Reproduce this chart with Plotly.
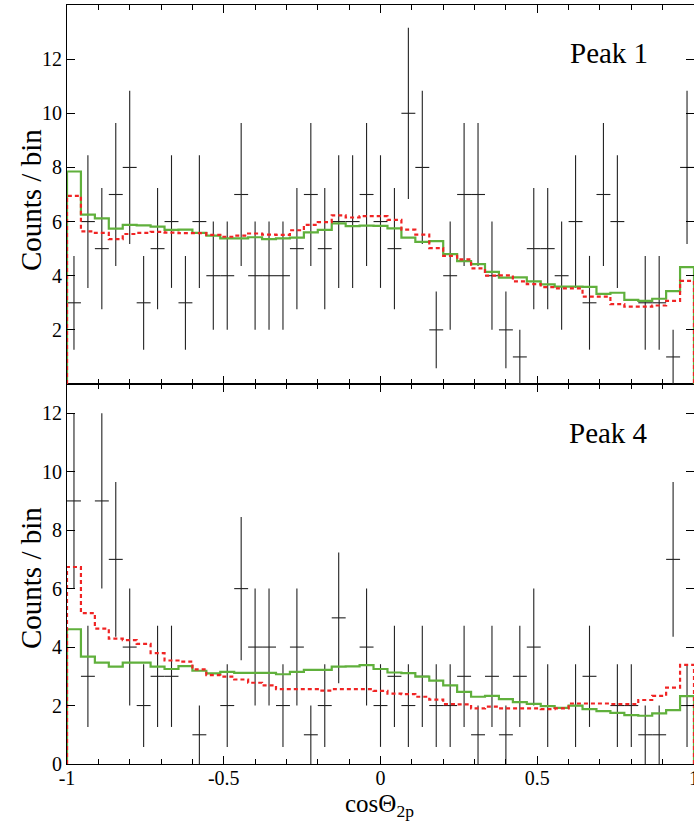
import numpy as np
import plotly.graph_objects as go

# ---- data (45 bins in cos(theta_2p) from -1 to 1) ----
n_bins = 45
x_min, x_max = -1.0, 1.0

peak1_counts = [3, 6, 5, 7, 8, 3, 5, 6, 3, 6, 4, 4, 7, 4, 4, 4, 5, 7, 5, 6, 6, 7, 6,
                5, 10, 8, 2, 4, 7, 7, 4, 2, 1, 5, 5, 4, 6, 3, 7, 6, 0, 3, 3, 1, 8]
peak1_green = [7.85, 6.26, 6.12, 5.74, 5.88, 5.86, 5.81, 5.69, 5.70, 5.58, 5.48, 5.38,
               5.38, 5.42, 5.35, 5.38, 5.41, 5.60, 5.69, 5.93, 5.83, 5.85, 5.84, 5.75,
               5.41, 5.25, 5.28, 4.80, 4.54, 4.43, 4.14, 3.93, 3.94, 3.79, 3.68, 3.60,
               3.60, 3.59, 3.33, 3.37, 3.11, 3.07, 3.15, 3.43, 4.32]
peak1_red = [6.95, 5.64, 5.58, 5.35, 5.54, 5.58, 5.62, 5.59, 5.57, 5.57, 5.51, 5.44,
             5.48, 5.56, 5.52, 5.51, 5.68, 5.88, 5.98, 6.23, 6.15, 6.20, 6.20, 6.06,
             5.70, 5.52, 5.02, 4.73, 4.60, 4.27, 4.00, 4.01, 3.79, 3.69, 3.58, 3.53,
             3.53, 3.23, 3.23, 2.95, 2.86, 2.86, 2.90, 3.07, 3.81]

peak4_counts = [9, 3, 9, 7, 4, 2, 3, 3, 0, 1, 0, 2, 6, 4, 4, 2, 4, 1, 2, 5, 0, 4, 2,
                3, 2, 3, 2, 2, 3, 1, 3, 1, 3, 4, 2, 0, 2, 3, 0, 2, 2, 1, 1, 7, 2]
peak4_green = [4.61, 3.67, 3.47, 3.33, 3.47, 3.47, 3.33, 3.25, 3.35, 3.19, 3.10, 3.15,
               3.12, 3.12, 3.12, 3.07, 3.15, 3.22, 3.22, 3.33, 3.34, 3.38, 3.25, 3.13,
               3.11, 2.99, 2.85, 2.69, 2.47, 2.30, 2.33, 2.22, 2.12, 2.06, 1.98, 1.92,
               2.00, 1.88, 1.81, 1.75, 1.67, 1.65, 1.73, 1.84, 2.32]
peak4_red = [6.74, 5.16, 4.63, 4.29, 4.24, 4.11, 3.79, 3.54, 3.50, 3.24, 3.04, 2.99,
             2.89, 2.78, 2.69, 2.56, 2.56, 2.56, 2.51, 2.56, 2.56, 2.56, 2.50, 2.41,
             2.39, 2.30, 2.20, 2.05, 2.04, 1.90, 1.96, 1.90, 1.90, 1.90, 1.88, 1.90,
             2.07, 2.07, 2.07, 2.05, 2.05, 2.19, 2.33, 2.61, 3.39]

x_tickvals = [-1, -0.5, 0, 0.5, 1]
x_ticktext = ["-1", "-0.5", "0", "0.5", "1"]
top_yticks = [2, 4, 6, 8, 10, 12]
bot_yticks = [0, 2, 4, 6, 8, 10, 12]
panel_labels = ["Peak 1", "Peak 4"]
y_title = "Counts / bin"
x_title = "cosΘ<sub>2p</sub>"

# ---- derived ----
edges = np.linspace(x_min, x_max, n_bins + 1)
centers = 0.5 * (edges[:-1] + edges[1:])
half_w = 0.5 * (edges[1] - edges[0])

GREEN = "rgb(96,176,60)"
RED = "rgb(240,36,36)"
FONT = "Liberation Serif, Times New Roman, Times, serif"

fig = go.Figure()


def step_xy(vals):
    xs = [edges[0]] + list(edges[:-1]) + [edges[-1], edges[-1]]
    ys = [0] + list(vals) + [vals[-1], 0]
    return xs, ys


def add_panel(counts, green, red, xa, ya):
    c = np.array(counts, dtype=float)
    m = c > 0
    fig.add_trace(go.Scatter(
        x=centers[m], y=c[m], mode="markers",
        marker=dict(size=1, color="rgba(0,0,0,0)"),
        error_y=dict(type="data", array=np.sqrt(c[m]), width=0, thickness=1.1, color="#222"),
        error_x=dict(type="data", array=np.full(m.sum(), half_w), width=0, thickness=1.1, color="#222"),
        xaxis=xa, yaxis=ya, showlegend=False, hoverinfo="skip"))
    gx, gy = step_xy(green)
    fig.add_trace(go.Scatter(x=gx, y=gy, mode="lines", line=dict(color=GREEN, width=2.2, shape="hv"),
                             xaxis=xa, yaxis=ya, showlegend=False))
    rx, ry = step_xy(red)
    fig.add_trace(go.Scatter(x=rx, y=ry, mode="lines",
                             line=dict(color=RED, width=2.2, shape="hv", dash="4px,3px"),
                             xaxis=xa, yaxis=ya, showlegend=False))


add_panel(peak1_counts, peak1_green, peak1_red, "x2", "y2")
add_panel(peak4_counts, peak4_green, peak4_red, "x", "y")

split = 380 / 759

axis_common = dict(showline=True, linecolor="black", linewidth=1.2, mirror="allticks",
                   ticks="inside", tickcolor="black", showgrid=False, zeroline=False,
                   automargin=False, ticklabeloverflow="allow",
                   tickfont=dict(family=FONT, size=20, color="black"))

fig.update_layout(
    width=694, height=827,
    margin=dict(l=67, r=0, t=5, b=63),
    paper_bgcolor="white", plot_bgcolor="white",
    font=dict(family=FONT, color="black"),
    xaxis=dict(range=[x_min, x_max], tickvals=x_tickvals, ticktext=x_ticktext, ticklen=8,
               ticklabelstandoff=-4,
               minor=dict(dtick=0.1, ticklen=5, ticks="inside", tickcolor="black"),
               domain=[0, 1], anchor="y", **axis_common),
    yaxis=dict(range=[0, 13], tickvals=bot_yticks, ticklen=8, domain=[0, split], anchor="x",
               **axis_common),
    xaxis2=dict(range=[x_min, x_max], tickvals=x_tickvals, showticklabels=False, ticklen=8,
                minor=dict(dtick=0.1, ticklen=5, ticks="inside", tickcolor="black"),
                domain=[0, 1], anchor="y2", **axis_common),
    yaxis2=dict(range=[0, 14], tickvals=top_yticks, ticklen=8, domain=[split, 1], anchor="x2",
                **axis_common),
)

# axis titles
fig.add_annotation(text=y_title, x=-0.0574, y=0.743, xref="paper", yref="paper", textangle=-90,
                   showarrow=False, xanchor="center", yanchor="middle",
                   font=dict(family=FONT, size=29, color="black"))
fig.add_annotation(text=y_title, x=-0.0574, y=0.245, xref="paper", yref="paper", textangle=-90,
                   showarrow=False, xanchor="center", yanchor="middle",
                   font=dict(family=FONT, size=29, color="black"))
fig.add_annotation(text=x_title, x=0.4992, y=-0.0553, xref="paper", yref="paper",
                   showarrow=False, xanchor="center", yanchor="middle",
                   font=dict(family=FONT, size=25, color="black"))

fig.add_annotation(text=panel_labels[0], x=0.86, y=12.23, xref="x2", yref="y2", showarrow=False,
                   xanchor="right", yanchor="middle", font=dict(family=FONT, size=29, color="black"))
fig.add_annotation(text=panel_labels[1], x=0.86, y=11.32, xref="x", yref="y", showarrow=False,
                   xanchor="right", yanchor="middle", font=dict(family=FONT, size=29, color="black"))

fig.write_html("out.html", config={"displayModeBar": False},
               post_script="document.body.style.margin='0px';document.body.style.overflow='hidden';")
